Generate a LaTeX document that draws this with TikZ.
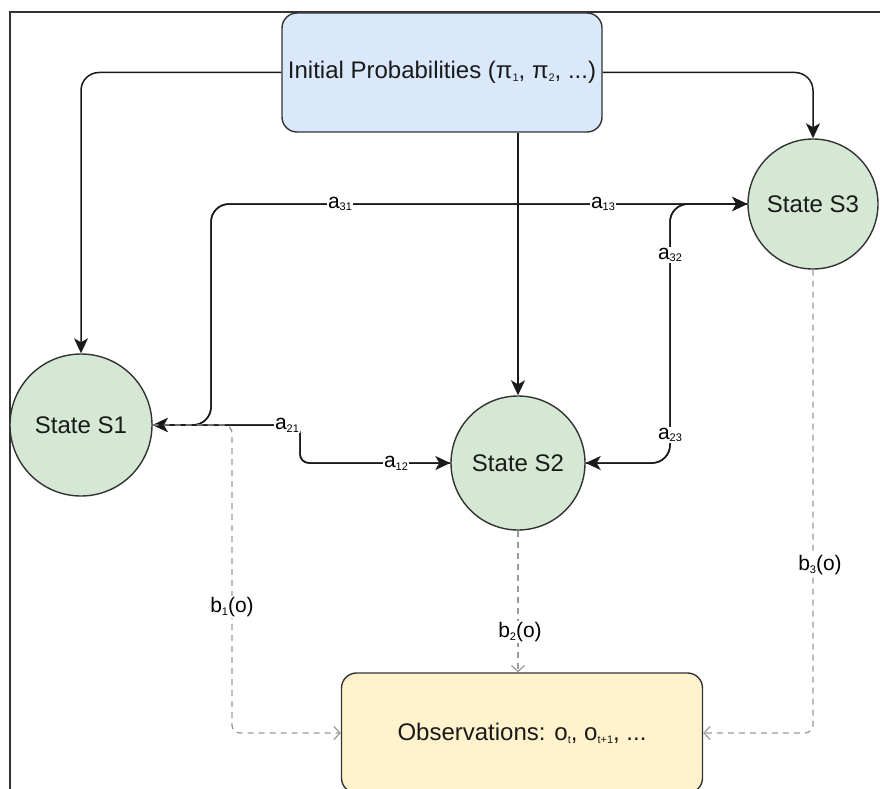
\documentclass[tikz,border=0pt]{standalone}
\usepackage{fontspec}
\setmainfont{Liberation Sans}
\usetikzlibrary{arrows.meta}

\definecolor{edgeink}{HTML}{1A1A1A}
\definecolor{boxline}{HTML}{333333}
\definecolor{initfill}{HTML}{DAE8FC}
\definecolor{statefill}{HTML}{D5E8D4}
\definecolor{obsfill}{HTML}{FFF2CC}
\definecolor{emitline}{HTML}{9A9A9A}

% small lowered index, sized independently of the surrounding text
\newcommand{\lowidx}[1]{\raisebox{-0.25ex}{\fontsize{11}{11}\selectfont #1}}

\tikzset{
  x=1pt, y=-1pt,
  nodetext/.style={font=\fontsize{24}{28}\selectfont, text=edgeink},
  probbox/.style={nodetext, draw=boxline, line width=1.4pt, fill=initfill,
    rounded corners=15pt, minimum width=320pt, minimum height=119pt, inner sep=0pt},
  obsbox/.style={nodetext, draw=boxline, line width=1.4pt, fill=obsfill,
    rounded corners=15pt, minimum width=361pt, minimum height=120pt, inner sep=0pt},
  statenode/.style={nodetext, circle, draw=boxline, line width=1.4pt, fill=statefill, inner sep=0pt},
  trans/.style={draw=edgeink, line width=1.5pt, rounded corners=18pt,
    -{Stealth[length=15pt,width=14pt,inset=4pt]}},
  emit/.style={draw=emitline, line width=1.3pt, dash pattern=on 6pt off 5pt,
    rounded corners=8pt, -{Straight Barb[length=6pt,width=13pt,line width=1.2pt]}},
  tlabel/.style={font=\fontsize{21}{23}\selectfont, text=black, fill=white, inner sep=1pt},
}

\begin{document}
\begin{tikzpicture}
\useasboundingbox (0,0) rectangle (880,789);

% outer frame (only top and left edges fall inside the page)
\draw[boxline, line width=1.5pt] (880,12) -- (10,12) -- (10,789);

% nodes
\node[probbox]  (init) at (442,72.5) {Initial Probabilities (π\lowidx{1}, π\lowidx{2}, ...)};
\node[statenode, minimum size=142pt] (s1) at (81,425)  {State S1};
\node[statenode, minimum size=134pt] (s2) at (518,463) {State S2};
\node[statenode, minimum size=130pt] (s3) at (813,204) {State S3};
\node[obsbox]   (obs)  at (522,733) {Observations: o\lowidx{t}, o\lowidx{t+1}, ...};

% routing points
\coordinate (k1) at (211,204);
\coordinate (k2) at (670,204);
\coordinate (k3) at (300,425);
\coordinate (k4) at (300,463);
\coordinate (k5) at (232,425);

% initial probabilities
\draw[trans] (init.west) -| (s1.north);
\draw[trans] (init.east) -| (s3.north);
\draw[trans] (s2.north |- init.south) -- (s2.north);

% transitions between S1 and S3
\draw[trans] (s1.east) -| (k1) -- (s3.west);
\draw[trans] (s3.west) -- (k1) |- (s1.east);
\node[tlabel] (l13) at (603,204) {a\lowidx{13}};
\node[tlabel] (l31) at (340,204) {a\lowidx{31}};

% transitions between S3 and S2
\draw[trans] (s3.west) -- (k2) |- (s2.east);
\draw[trans] (s2.east) -| (k2) -- (s3.west);
\node[tlabel] (l32) at (670,255) {a\lowidx{32}};
\node[tlabel] (l23) at (670,435) {a\lowidx{23}};

% transitions between S1 and S2
\draw[trans, rounded corners=9pt] (s1.east) -- (k3) -- (k4) -- (s2.west);
\draw[trans, rounded corners=9pt] (s2.west) -- (k4) -- (k3) -- (s1.east);
\node[tlabel] (l21) at (287,425) {a\lowidx{21}};
\node[tlabel] (l12) at (396,463) {a\lowidx{12}};

% emissions
\draw[emit] (s1.east) -- (k5) |- (obs.west);
\node[tlabel] (b1) at (232,607) {b\lowidx{1}(o)};
\draw[emit] (s2.south) -- (s2.south |- obs.north);
\node[tlabel] (b2) at (520,632) {b\lowidx{2}(o)};
\draw[emit] (s3.south) |- (obs.east);
\node[tlabel] (b3) at (820,565) {b\lowidx{3}(o)};
\end{tikzpicture}
\end{document}
